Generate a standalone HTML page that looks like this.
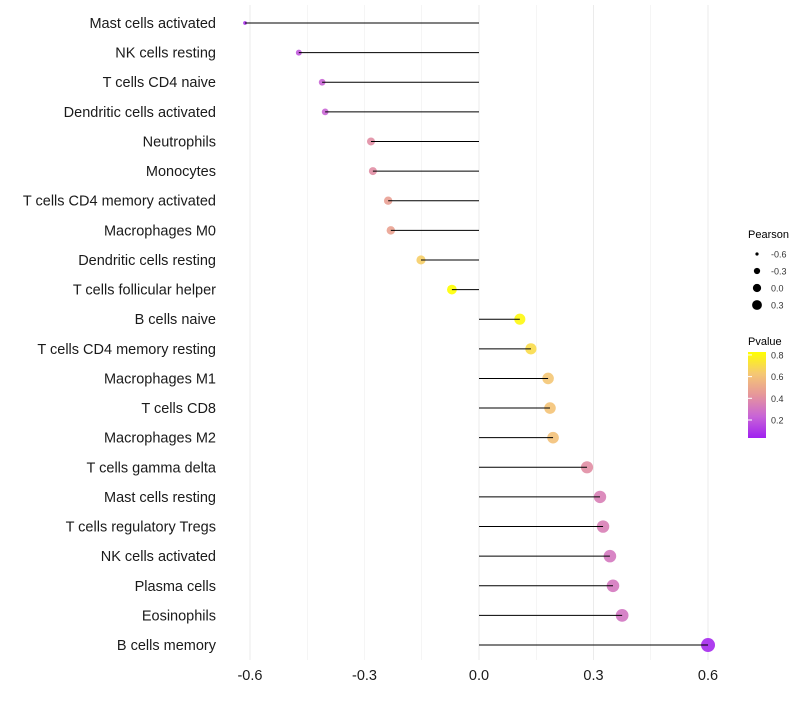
<!DOCTYPE html>
<html><head><meta charset="utf-8"><style>body{margin:0;background:#fff}svg{font-family:"Liberation Sans",sans-serif}</style></head>
<body>
<svg id="chart" width="800" height="700">
<g id="grid"></g><g id="dots"></g><g id="stems"></g><g id="labels"></g><g id="xaxis"></g>
<g id="legend">
<text x="748" y="238" font-size="11">Pearson</text>
<g id="sizeLeg"></g>
<text x="748" y="345" font-size="11">Pvalue</text>
<defs><linearGradient id="pg" x1="0" y1="1" x2="0" y2="0">
<stop offset="0" stop-color="rgb(160,32,240)"/><stop offset="0.25" stop-color="rgb(200,100,215)"/><stop offset="0.5" stop-color="rgb(230,150,155)"/><stop offset="0.75" stop-color="rgb(245,200,115)"/><stop offset="1" stop-color="rgb(255,255,0)"/></linearGradient></defs>
<rect x="748" y="352" width="18" height="86" fill="url(#pg)"/>
<g id="colLeg"></g>
</g>
</svg>
<script>
const categories=["Mast cells activated","NK cells resting","T cells CD4 naive","Dendritic cells activated","Neutrophils","Monocytes","T cells CD4 memory activated","Macrophages M0","Dendritic cells resting","T cells follicular helper","B cells naive","T cells CD4 memory resting","Macrophages M1","T cells CD8","Macrophages M2","T cells gamma delta","Mast cells resting","T cells regulatory  Tregs ","NK cells activated","Plasma cells","Eosinophils","B cells memory"];
const pearson=[-0.613,-0.472,-0.411,-0.403,-0.283,-0.278,-0.238,-0.231,-0.152,-0.071,0.107,0.136,0.181,0.186,0.194,0.283,0.317,0.325,0.343,0.351,0.375,0.600];
const pvalues=[0.08,0.20,0.24,0.24,0.40,0.40,0.47,0.48,0.65,0.83,0.80,0.70,0.62,0.61,0.60,0.40,0.34,0.34,0.31,0.31,0.30,0.06];
const xTicks=[-0.6,-0.3,0.0,0.3,0.6];
const xTickLabels=["-0.6","-0.3","0.0","0.3","0.6"];
const sizeLegVals=[-0.6,-0.3,0.0,0.3];
const colLegVals=[0.8,0.6,0.4,0.2];
const NS="http://www.w3.org/2000/svg";
const x=v=>479+v*381.7;
const y=i=>23+i*29.62;
const r=v=>Math.sqrt(Math.max(1,26.5+37.5*v));
const pMin=0.034,pMax=0.827;
const stops=[[160,32,240],[200,100,215],[230,150,155],[245,200,115],[255,255,0]];
const col=p=>{let t=Math.min(1,Math.max(0,(p-pMin)/(pMax-pMin)))*4;let k=Math.min(3,Math.floor(t)),f=t-k;const a=stops[k],b=stops[k+1];return `rgb(${Math.round(a[0]+(b[0]-a[0])*f)},${Math.round(a[1]+(b[1]-a[1])*f)},${Math.round(a[2]+(b[2]-a[2])*f)})`;};
const py=p=>438-(p-pMin)/(pMax-pMin)*86;
function mk(tag,attrs,parent){const e=document.createElementNS(NS,tag);for(const k in attrs)e.setAttribute(k,attrs[k]);document.getElementById(parent).appendChild(e);return e;}
for(let v=-0.6;v<=0.61;v+=0.15){const g=mk('line',{x1:x(v),x2:x(v),y1:5,y2:660,stroke:'#ebebeb','stroke-width':Math.abs((v*100)%30)<1?1:0.5},'grid');}
categories.forEach((c,i)=>{
 const d=mk('circle',{cx:x(pearson[i]),cy:y(i),r:r(pearson[i]),fill:col(pvalues[i]),'fill-opacity':0.9},'dots');
 
 const l=mk('line',{x1:x(0),x2:x(pearson[i]),y1:y(i),y2:y(i),stroke:'#000','stroke-width':1},'stems');
 
 const t=mk('text',{x:216,y:y(i)+5,'text-anchor':'end','font-size':14.5,fill:'#1a1a1a'},'labels');t.textContent=c;
 
});
xTicks.forEach((v,i)=>{const t=mk('text',{x:x(v),y:680,'text-anchor':'middle','font-size':14.5,fill:'#1a1a1a'},'xaxis');t.textContent=xTickLabels[i];
 });
sizeLegVals.forEach((v,i)=>{const cy=254+i*17;
 const c=mk('circle',{cx:757,cy:cy,r:r(v)*0.8,fill:'#000'},'sizeLeg');
 const t=mk('text',{x:771,y:cy+3.5,'font-size':9,fill:'#333'},'sizeLeg');t.textContent=v.toFixed(1);});
colLegVals.forEach(v=>{const yy=py(v);
 const t=mk('text',{x:771,y:yy+3.5,'font-size':9,fill:'#333'},'colLeg');t.textContent=v.toFixed(1);
 const k=mk('line',{x1:748,x2:752,y1:yy,y2:yy,stroke:'#fff'},'colLeg');});
</script>
</body></html>
